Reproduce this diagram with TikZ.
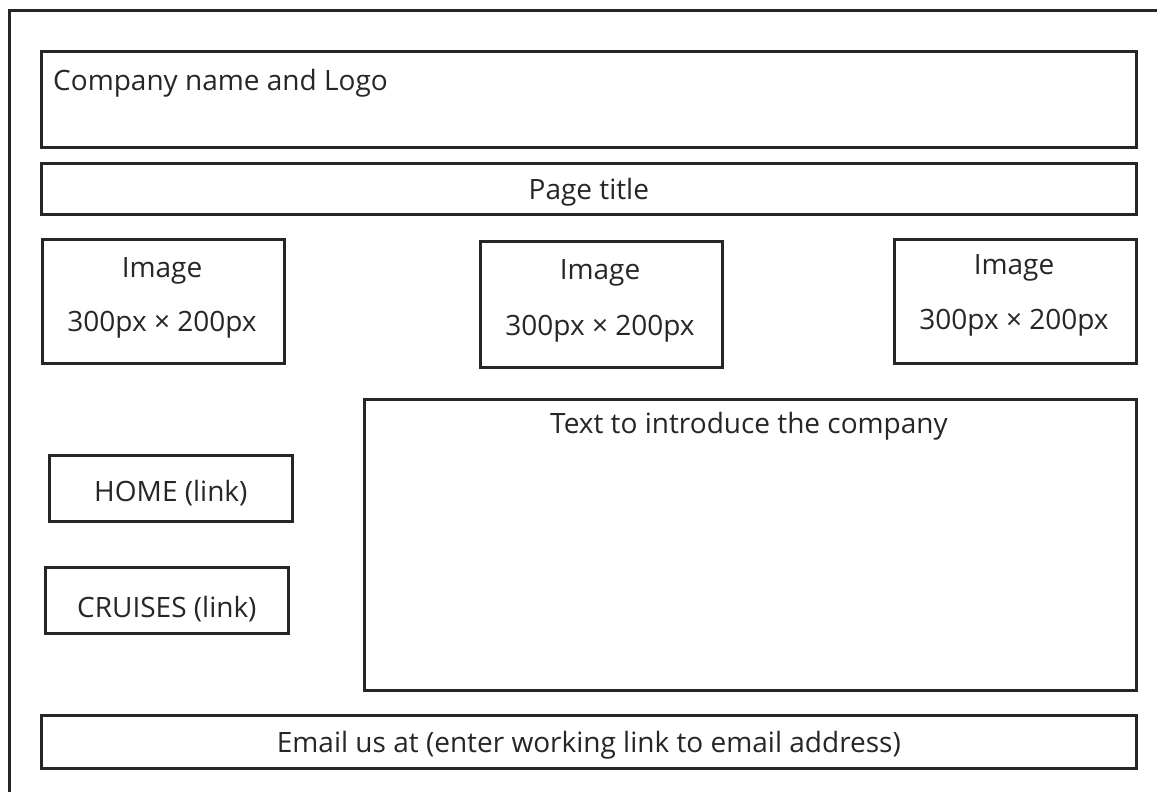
\documentclass[tikz,border=0pt]{standalone}
\usepackage{fontspec}
\setmainfont{Open Sans}
\begin{document}
\begin{tikzpicture}[x=1pt,y=-1pt,
  box/.style={draw=black!85,line width=2.7pt,inner sep=0pt,anchor=north west},
  lbl/.style={font=\fontsize{28}{32}\selectfont,text=black!85,inner sep=0pt,yshift=-3pt}]
\useasboundingbox (0,0) rectangle (1157,792);
\draw[line width=3pt,black!85] (1157,11) -- (9,11) -- (9,792);
\node[box,minimum width=1095pt,minimum height=96pt] (company) at (40,50) {};
\node[lbl,anchor=base west] (companyt) at (53,87) {Company name and Logo};
\node[box,minimum width=1095pt,minimum height=51pt] (title) at (40,162) {};
\node[lbl] (titlet) at (title.center) {Page title};
\node[box,minimum width=242pt,minimum height=124pt] (img1) at (41,238) {};
\node[box,minimum width=242pt,minimum height=126pt] (img2) at (479,240) {};
\node[box,minimum width=242pt,minimum height=124pt] (img3) at (893,238) {};
\node[lbl] (img1a) at (162,268) {Image};
\node[lbl] (img1b) at (162,322) {300px × 200px};
\node[lbl] (img2a) at (600,270) {Image};
\node[lbl] (img2b) at (600,326) {300px × 200px};
\node[lbl] (img3a) at (1014,265) {Image};
\node[lbl] (img3b) at (1014,320) {300px × 200px};
\node[box,minimum width=772pt,minimum height=291pt] (intro) at (363,398) {};
\node[lbl] (introt) at (749,423) {Text to introduce the company};
\node[box,minimum width=243pt,minimum height=66pt] (home) at (48,454) {};
\node[lbl] (homet) at ([yshift=-2pt]home.center) {HOME (link)};
\node[box,minimum width=243pt,minimum height=66pt] (cruises) at (44,566) {};
\node[lbl] (cruisest) at ([yshift=-6pt]cruises.center) {CRUISES (link)};
\node[box,minimum width=1095pt,minimum height=53pt] (email) at (40,714) {};
\node[lbl] (emailt) at (email.center) {Email us at (enter working link to email address)};
\end{tikzpicture}
\end{document}
